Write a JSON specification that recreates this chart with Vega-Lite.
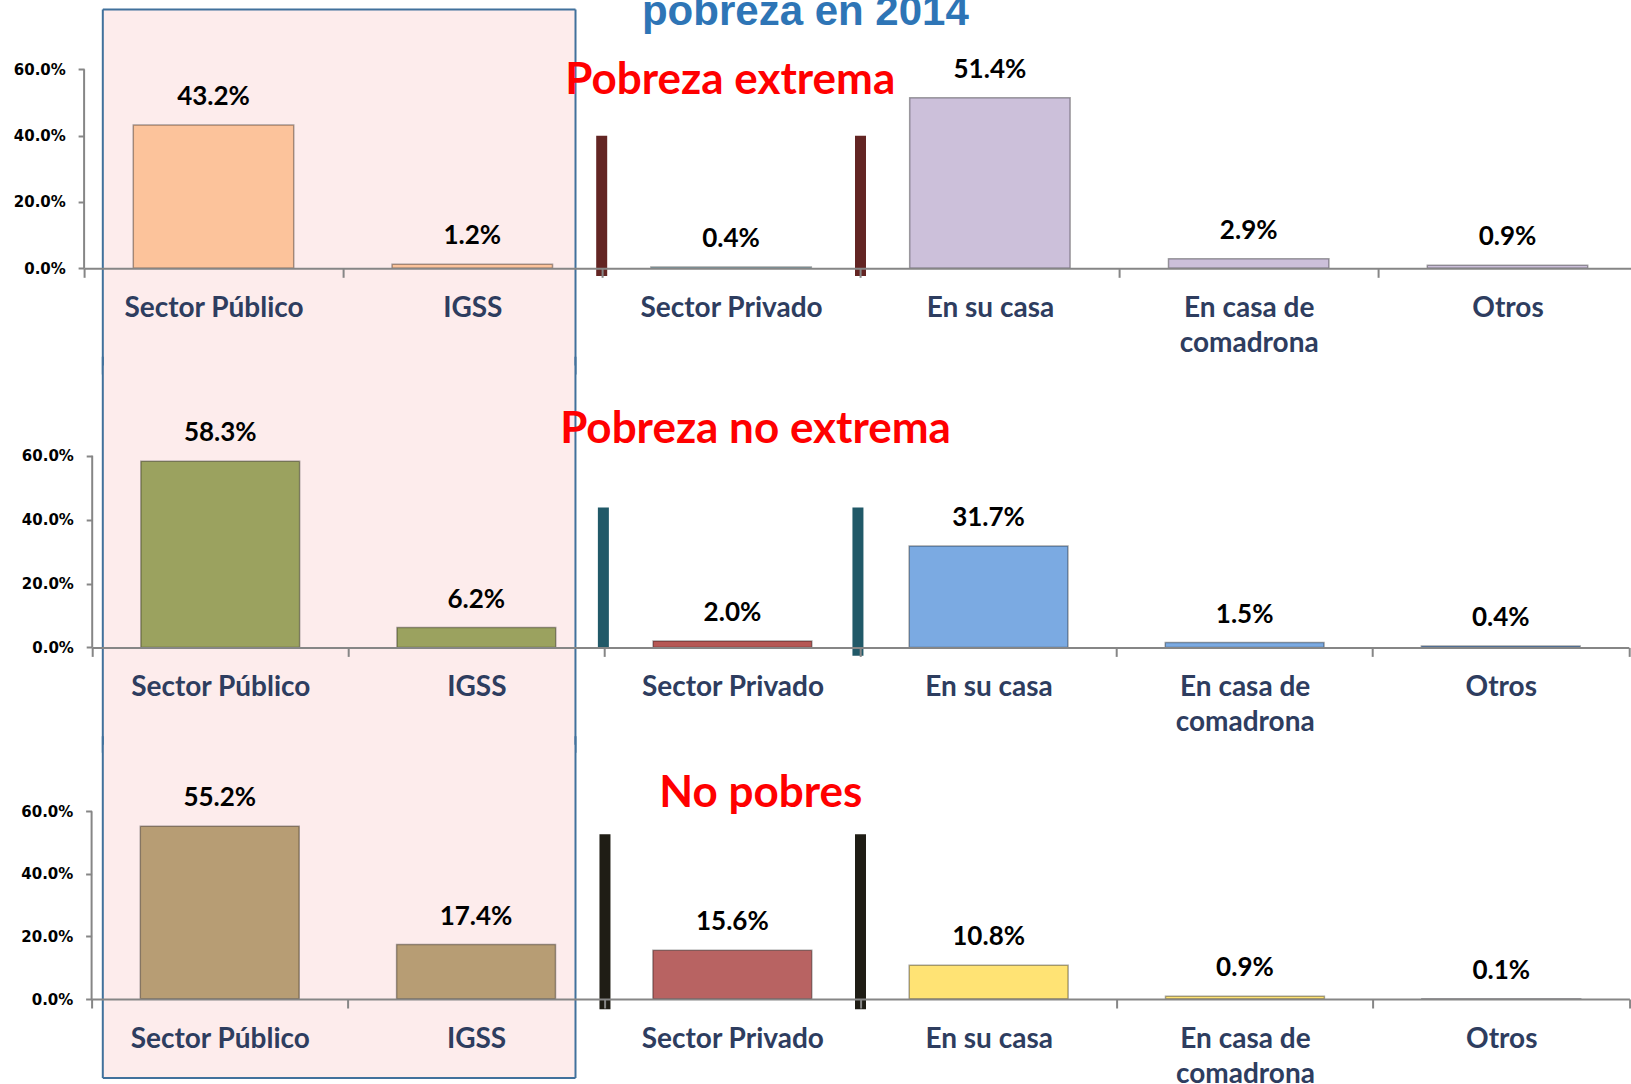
{
  "$schema": "https://vega.github.io/schema/vega-lite/v6.json",
  "padding": {"left": 13, "top": 0, "right": 0, "bottom": 0},
  "bounds": "flush",
  "spacing": 100,
  "center": true,
  "background": "#ffffff",
  "datasets": {
    "partos": [
      {"panel": "Pobreza extrema", "cat": "Sector Público", "v": 0.432},
      {"panel": "Pobreza extrema", "cat": "IGSS", "v": 0.012},
      {"panel": "Pobreza extrema", "cat": "Sector Privado", "v": 0.004},
      {"panel": "Pobreza extrema", "cat": "En su casa", "v": 0.514},
      {"panel": "Pobreza extrema", "cat": "En casa de comadrona", "v": 0.029},
      {"panel": "Pobreza extrema", "cat": "Otros", "v": 0.009},
      {"panel": "Pobreza no extrema", "cat": "Sector Público", "v": 0.583},
      {"panel": "Pobreza no extrema", "cat": "IGSS", "v": 0.062},
      {"panel": "Pobreza no extrema", "cat": "Sector Privado", "v": 0.020},
      {"panel": "Pobreza no extrema", "cat": "En su casa", "v": 0.317},
      {"panel": "Pobreza no extrema", "cat": "En casa de comadrona", "v": 0.015},
      {"panel": "Pobreza no extrema", "cat": "Otros", "v": 0.004},
      {"panel": "No pobres", "cat": "Sector Público", "v": 0.552},
      {"panel": "No pobres", "cat": "IGSS", "v": 0.174},
      {"panel": "No pobres", "cat": "Sector Privado", "v": 0.156},
      {"panel": "No pobres", "cat": "En su casa", "v": 0.108},
      {"panel": "No pobres", "cat": "En casa de comadrona", "v": 0.009},
      {"panel": "No pobres", "cat": "Otros", "v": 0.001}
    ],
    "uno": [{}]
  },
  "vconcat": [
    {
      "width": 1552.8,
      "height": 268.3,
      "layer": [
        {
          "data": {"name": "uno"},
          "layer": [
            {"mark": {"type": "rect", "color": "#FDECEC"},
             "encoding": {
               "x": {"datum": 0.0723, "type": "quantitative", "scale": {"domain": [0, 6], "nice": false, "zero": false}, "axis": null, "title": null},
               "x2": {"datum": 1.8988},
               "y": {"datum": 0.7803, "type": "quantitative", "title": null},
               "y2": {"datum": -0.32}}},
            {"mark": {"type": "rule", "color": "#868686", "strokeWidth": 2},
             "encoding": {
               "x": {"datum": 0, "type": "quantitative", "axis": null, "title": null},
               "y": {"datum": 0, "type": "quantitative", "title": null},
               "y2": {"datum": 0.6}}},
            {"mark": {"type": "rule", "color": "#41719C", "strokeWidth": 2},
             "encoding": {
               "x": {"datum": 0.0723, "type": "quantitative", "axis": null, "title": null},
               "y": {"datum": 0.7803, "type": "quantitative", "title": null},
               "y2": {"datum": -0.32}}},
            {"mark": {"type": "rule", "color": "#41719C", "strokeWidth": 2},
             "encoding": {
               "x": {"datum": 1.8988, "type": "quantitative", "axis": null, "title": null},
               "y": {"datum": 0.7803, "type": "quantitative", "title": null},
               "y2": {"datum": -0.32}}},
            {"mark": {"type": "rule", "color": "#41719C", "strokeWidth": 2},
             "encoding": {
               "x": {"datum": 0.0723, "type": "quantitative", "axis": null, "title": null},
               "x2": {"datum": 1.8988},
               "y": {"datum": 0.7803, "type": "quantitative", "title": null}}},
            {"mark": {"type": "rule", "color": "#632523", "strokeWidth": 11},
             "encoding": {
               "x": {"datum": 2.0, "type": "quantitative", "axis": null, "title": null},
               "y": {"datum": 0.40, "type": "quantitative", "title": null},
               "y2": {"datum": -0.023}}},
            {"mark": {"type": "rule", "color": "#632523", "strokeWidth": 11},
             "encoding": {
               "x": {"datum": 3.0, "type": "quantitative", "axis": null, "title": null},
               "y": {"datum": 0.40, "type": "quantitative", "title": null},
               "y2": {"datum": -0.023}}},
            {"mark": {"type": "text", "text": "Pobreza extrema", "font": "Lato", "fontWeight": "bold", "fontSize": 44, "color": "#FF0000", "baseline": "middle", "align": "center"},
             "encoding": {
               "x": {"datum": 2.497, "type": "quantitative", "axis": null, "title": null},
               "y": {"datum": 0.565, "type": "quantitative", "title": null}}},
            {"mark": {"type": "text", "text": "pobreza en 2014", "font": "Liberation Sans", "fontWeight": "bold", "fontSize": 42, "color": "#2E75B6", "baseline": "alphabetic", "align": "center", "clip": true},
             "encoding": {
               "x": {"datum": 2.787, "type": "quantitative", "axis": null, "title": null},
               "y": {"datum": 0.7337, "type": "quantitative", "title": null}}}
          ]
        },
        {
          "transform": [{"filter": "datum.panel == 'Pobreza extrema'"}],
          "data": {"name": "partos"},
          "layer": [
            {"mark": {"type": "bar", "width": {"band": 0.62}, "stroke": "#000000", "strokeOpacity": 0.35, "strokeWidth": 1.5},
             "encoding": {
               "x": {"field": "cat", "type": "nominal", "sort": ["Sector Público", "IGSS", "Sector Privado", "En su casa", "En casa de comadrona", "Otros"], "scale": {"paddingInner": 0, "paddingOuter": 0}, "axis": {"zindex": 1}, "title": null},
               "y": {"field": "v", "type": "quantitative", "scale": {"domain": [0, 0.809], "nice": false, "zero": false}, "axis": {"values": [0, 0.2, 0.4, 0.6], "format": ".1%", "zindex": 1}, "title": null},
               "color": {"field": "cat", "type": "nominal", "scale": {"domain": ["Sector Público", "IGSS", "Sector Privado", "En su casa", "En casa de comadrona", "Otros"], "range": ["#FCC39B", "#FCC39B", "#B7DEE8", "#CCC0DA", "#CCC0DA", "#CCC0DA"]}, "legend": null}}},
            {"mark": {"type": "text", "baseline": "alphabetic", "dy": -20, "font": "Lato", "fontWeight": "bold", "fontSize": 26, "color": "#000000"},
             "encoding": {
               "x": {"field": "cat", "type": "nominal", "sort": ["Sector Público", "IGSS", "Sector Privado", "En su casa", "En casa de comadrona", "Otros"], "title": null},
               "y": {"field": "v", "type": "quantitative", "title": null},
               "text": {"field": "v", "type": "quantitative", "format": ".1%"}}}
          ]
        }
      ],
      "resolve": {"scale": {"x": "independent"}}
    },
    {
      "width": 1536.6,
      "height": 278.4,
      "layer": [
        {
          "data": {"name": "uno"},
          "layer": [
            {"mark": {"type": "rect", "color": "#FDECEC"},
             "encoding": {
               "x": {"datum": 0.0414, "type": "quantitative", "scale": {"domain": [0, 6], "nice": false, "zero": false}, "axis": null, "title": null},
               "x2": {"datum": 1.887},
               "y": {"datum": 0.882, "type": "quantitative", "title": null},
               "y2": {"datum": -0.33}}},
            {"mark": {"type": "rule", "color": "#868686", "strokeWidth": 2},
             "encoding": {
               "x": {"datum": 0, "type": "quantitative", "axis": null, "title": null},
               "y": {"datum": 0, "type": "quantitative", "title": null},
               "y2": {"datum": 0.6}}},
            {"mark": {"type": "rule", "color": "#41719C", "strokeWidth": 2},
             "encoding": {
               "x": {"datum": 0.0414, "type": "quantitative", "axis": null, "title": null},
               "y": {"datum": 0.91, "type": "quantitative", "title": null},
               "y2": {"datum": -0.33}}},
            {"mark": {"type": "rule", "color": "#41719C", "strokeWidth": 2},
             "encoding": {
               "x": {"datum": 1.887, "type": "quantitative", "axis": null, "title": null},
               "y": {"datum": 0.91, "type": "quantitative", "title": null},
               "y2": {"datum": -0.33}}},
            {"mark": {"type": "rule", "color": "#215968", "strokeWidth": 11},
             "encoding": {
               "x": {"datum": 1.996, "type": "quantitative", "axis": null, "title": null},
               "y": {"datum": 0.438, "type": "quantitative", "title": null},
               "y2": {"datum": -0.003}}},
            {"mark": {"type": "rule", "color": "#215968", "strokeWidth": 11},
             "encoding": {
               "x": {"datum": 2.99, "type": "quantitative", "axis": null, "title": null},
               "y": {"datum": 0.438, "type": "quantitative", "title": null},
               "y2": {"datum": -0.026}}},
            {"mark": {"type": "text", "text": "Pobreza no extrema", "font": "Lato", "fontWeight": "bold", "fontSize": 44, "color": "#FF0000", "baseline": "middle", "align": "center"},
             "encoding": {
               "x": {"datum": 2.59, "type": "quantitative", "axis": null, "title": null},
               "y": {"datum": 0.6795, "type": "quantitative", "title": null}}}
          ]
        },
        {
          "transform": [{"filter": "datum.panel == 'Pobreza no extrema'"}],
          "data": {"name": "partos"},
          "layer": [
            {"mark": {"type": "bar", "width": {"band": 0.62}, "stroke": "#000000", "strokeOpacity": 0.35, "strokeWidth": 1.5},
             "encoding": {
               "x": {"field": "cat", "type": "nominal", "sort": ["Sector Público", "IGSS", "Sector Privado", "En su casa", "En casa de comadrona", "Otros"], "scale": {"paddingInner": 0, "paddingOuter": 0}, "axis": {"zindex": 1}, "title": null},
               "y": {"field": "v", "type": "quantitative", "scale": {"domain": [0, 0.8714], "nice": false, "zero": false}, "axis": {"values": [0, 0.2, 0.4, 0.6], "format": ".1%", "zindex": 1}, "title": null},
               "color": {"field": "cat", "type": "nominal", "scale": {"domain": ["Sector Público", "IGSS", "Sector Privado", "En su casa", "En casa de comadrona", "Otros"], "range": ["#9BA25F", "#9BA25F", "#B65855", "#7BAAE2", "#7BAAE2", "#7BAAE2"]}, "legend": null}}},
            {"mark": {"type": "text", "baseline": "alphabetic", "dy": -20, "font": "Lato", "fontWeight": "bold", "fontSize": 26, "color": "#000000"},
             "encoding": {
               "x": {"field": "cat", "type": "nominal", "sort": ["Sector Público", "IGSS", "Sector Privado", "En su casa", "En casa de comadrona", "Otros"], "title": null},
               "y": {"field": "v", "type": "quantitative", "title": null},
               "text": {"field": "v", "type": "quantitative", "format": ".1%"}}}
          ]
        }
      ],
      "resolve": {"scale": {"x": "independent"}}
    },
    {
      "width": 1537.8,
      "height": 251,
      "layer": [
        {
          "data": {"name": "uno"},
          "layer": [
            {"mark": {"type": "rect", "color": "#FDECEC"},
             "encoding": {
               "x": {"datum": 0.0437, "type": "quantitative", "scale": {"domain": [0, 6], "nice": false, "zero": false}, "axis": null, "title": null},
               "x2": {"datum": 1.888},
               "y": {"datum": 0.813, "type": "quantitative", "title": null},
               "y2": {"datum": -0.2526}}},
            {"mark": {"type": "rule", "color": "#868686", "strokeWidth": 2},
             "encoding": {
               "x": {"datum": 0, "type": "quantitative", "axis": null, "title": null},
               "y": {"datum": 0, "type": "quantitative", "title": null},
               "y2": {"datum": 0.6}}},
            {"mark": {"type": "rule", "color": "#41719C", "strokeWidth": 2},
             "encoding": {
               "x": {"datum": 0.0437, "type": "quantitative", "axis": null, "title": null},
               "y": {"datum": 0.84, "type": "quantitative", "title": null},
               "y2": {"datum": -0.2526}}},
            {"mark": {"type": "rule", "color": "#41719C", "strokeWidth": 2},
             "encoding": {
               "x": {"datum": 1.888, "type": "quantitative", "axis": null, "title": null},
               "y": {"datum": 0.84, "type": "quantitative", "title": null},
               "y2": {"datum": -0.2526}}},
            {"mark": {"type": "rule", "color": "#41719C", "strokeWidth": 2},
             "encoding": {
               "x": {"datum": 0.0437, "type": "quantitative", "axis": null, "title": null},
               "x2": {"datum": 1.888},
               "y": {"datum": -0.2526, "type": "quantitative", "title": null}}},
            {"mark": {"type": "rule", "color": "#1F1D15", "strokeWidth": 11},
             "encoding": {
               "x": {"datum": 2.003, "type": "quantitative", "axis": null, "title": null},
               "y": {"datum": 0.527, "type": "quantitative", "title": null},
               "y2": {"datum": -0.033}}},
            {"mark": {"type": "rule", "color": "#1F1D15", "strokeWidth": 11},
             "encoding": {
               "x": {"datum": 3.0, "type": "quantitative", "axis": null, "title": null},
               "y": {"datum": 0.527, "type": "quantitative", "title": null},
               "y2": {"datum": -0.033}}},
            {"mark": {"type": "text", "text": "No pobres", "font": "Lato", "fontWeight": "bold", "fontSize": 44, "color": "#FF0000", "baseline": "middle", "align": "center"},
             "encoding": {
               "x": {"datum": 2.611, "type": "quantitative", "axis": null, "title": null},
               "y": {"datum": 0.6557, "type": "quantitative", "title": null}}}
          ]
        },
        {
          "transform": [{"filter": "datum.panel == 'No pobres'"}],
          "data": {"name": "partos"},
          "layer": [
            {"mark": {"type": "bar", "width": {"band": 0.62}, "stroke": "#000000", "strokeOpacity": 0.35, "strokeWidth": 1.5},
             "encoding": {
               "x": {"field": "cat", "type": "nominal", "sort": ["Sector Público", "IGSS", "Sector Privado", "En su casa", "En casa de comadrona", "Otros"], "scale": {"paddingInner": 0, "paddingOuter": 0}, "axis": {"zindex": 1}, "title": null},
               "y": {"field": "v", "type": "quantitative", "scale": {"domain": [0, 0.8024], "nice": false, "zero": false}, "axis": {"values": [0, 0.2, 0.4, 0.6], "format": ".1%", "zindex": 1}, "title": null},
               "color": {"field": "cat", "type": "nominal", "scale": {"domain": ["Sector Público", "IGSS", "Sector Privado", "En su casa", "En casa de comadrona", "Otros"], "range": ["#B79D74", "#B79D74", "#B86362", "#FFE374", "#FFE374", "#CCC0DA"]}, "legend": null}}},
            {"mark": {"type": "text", "baseline": "alphabetic", "dy": -20, "font": "Lato", "fontWeight": "bold", "fontSize": 26, "color": "#000000"},
             "encoding": {
               "x": {"field": "cat", "type": "nominal", "sort": ["Sector Público", "IGSS", "Sector Privado", "En su casa", "En casa de comadrona", "Otros"], "title": null},
               "y": {"field": "v", "type": "quantitative", "title": null},
               "text": {"field": "v", "type": "quantitative", "format": ".1%"}}}
          ]
        }
      ],
      "resolve": {"scale": {"x": "independent"}}
    }
  ],
  "resolve": {"scale": {"color": "independent", "x": "independent", "y": "independent"}},
  "config": {
    "view": {"stroke": null},
    "axis": {"zindex": 1, "grid": false, "title": null},
    "axisX": {
      "domainColor": "#868686", "domainWidth": 2,
      "tickColor": "#868686", "tickWidth": 2, "tickSize": 9,
      "tickBand": "extent",
      "labelAngle": 0,
      "labelFont": "Lato", "labelFontWeight": "bold", "labelFontSize": 28, "labelColor": "#2E3D5F",
      "labelBaseline": "alphabetic", "labelPadding": 39, "labelLineHeight": 35,
      "labelLimit": 0, "labelOverlap": false, "labelFlush": false,
      "labelExpr": "datum.label == 'En casa de comadrona' ? ['En casa de', 'comadrona'] : datum.label"
    },
    "axisY": {
      "domain": false,
      "tickColor": "#868686", "tickWidth": 2, "tickSize": 6,
      "labelFont": "DejaVu Sans", "labelFontWeight": "bold", "labelFontSize": 15, "labelColor": "#000000",
      "labelPadding": 12.8
    }
  }
}
